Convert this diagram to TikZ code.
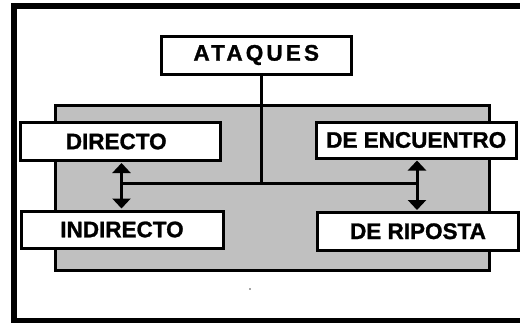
\documentclass[tikz,border=0pt]{standalone}
\usepackage{fontspec}
\setmainfont{Liberation Sans}[BoldFeatures={FakeBold=1.2}]
\usetikzlibrary{arrows.meta}
\definecolor{panelgray}{RGB}{192,192,192}
\tikzset{
  lbl/.style={draw=black, fill=white, line width=3pt, inner sep=0pt,
    font=\fontsize{22.5}{24}\selectfont\bfseries},
  conn/.style={line width=3pt},
  dbl/.style={line width=3pt, {Triangle[width=18pt,length=10pt]}-{Triangle[width=18pt,length=10pt]}, shorten <=1pt, shorten >=1pt},
}
\begin{document}
\begin{tikzpicture}[x=1pt,y=-1pt]
\useasboundingbox (0,0) rectangle (520,322);
\clip (0,0) rectangle (520,322);
\fill[white] (0,0) rectangle (520,322);
% outer frame (right side beyond the picture)
\draw[line width=6pt] (540,6) -- (14,6) -- (14,320.5) -- (540,320.5);
% grey panel
\node[draw=black, fill=panelgray, line width=3pt, inner sep=0pt,
  minimum width=434.5pt, minimum height=165pt] (panel) at (272.25,187.5) {};
% boxes
\node[lbl, minimum width=190.5pt, minimum height=38pt] (ataques) at (256.25,55)
  {\addfontfeature{LetterSpace=14}ATAQUES};
\node[lbl, minimum width=200.5pt, minimum height=38pt] (directo) at (120.25,141.5) {\hspace*{-8pt}DIRECTO};
\node[lbl, minimum width=202pt, minimum height=37pt] (indirecto) at (122,229.5) {INDIRECTO};
\node[lbl, minimum width=200.5pt, minimum height=36pt] (encuentro) at (416.25,140) {DE ENCUENTRO};
\node[lbl, minimum width=201pt, minimum height=37.5pt] (riposta) at (418,231.25) {DE RIPOSTA};
% junctions
\coordinate (jC) at (261.5,183.5);
\coordinate (jL) at (121.5,183.5);
\coordinate (jR) at (417,183.5);
% connectors
\draw[conn] (ataques.south -| jC) -- (jC);
\draw[conn] (jL) -- (jR);
\draw[dbl] (directo.south -| jL) -- (indirecto.north -| jL);
\draw[dbl] (encuentro.south -| jR) -- (riposta.north -| jR);
% small speck
\fill[black!70] (250,289) circle (0.9pt);
\end{tikzpicture}
\end{document}
